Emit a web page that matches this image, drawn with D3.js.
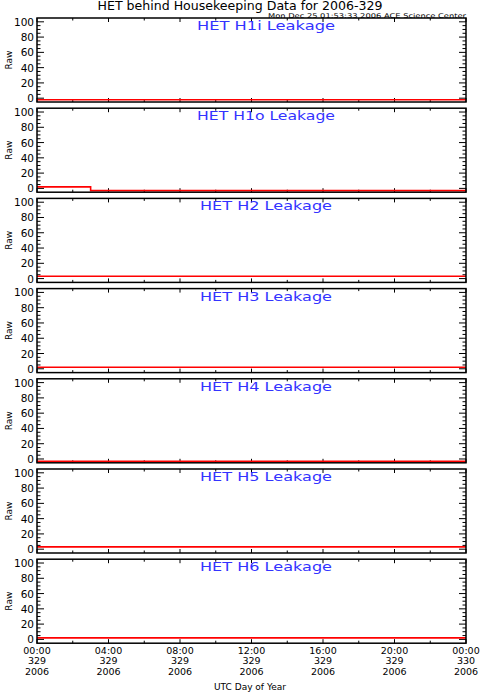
<!DOCTYPE html>
<html><head><meta charset="utf-8">
<script src="https://cdn.jsdelivr.net/npm/d3@7"></script>
<style>body{margin:0;background:#fff} svg{display:block}</style>
</head><body><svg id="c" width="480" height="692"></svg>
<script>
// ---- data ----
const chartTitle = "HET behind Housekeeping Data for 2006-329";
const stampText = "Mon Dec 25 01:53:33 2006 ACE Science Center";
const panelNames = ["HET H1i Leakage","HET H1o Leakage","HET H2 Leakage","HET H3 Leakage","HET H4 Leakage","HET H5 Leakage","HET H6 Leakage"];
// [hour of day, raw value]
const h1i = [[0,-2],[24,-2]];
const h1o = [[0,2],[3,-3],[24,-3]];
const h2  = [[0,3],[24,3]];
const h3  = [[0,2],[24,2]];
const h4  = [[0,-3],[24,-3]];
const h5  = [[0,3],[24,3]];
const h6  = [[0,2],[24,2]];
const yTicks = [0,20,40,60,80,100];
const xTickHours = [0,4,8,12,16,20,24];
const xTimeLabels = ["00:00","04:00","08:00","12:00","16:00","20:00","00:00"];
const xDayLabels = ["329","329","329","329","329","329","330"];
const xYearLabels = ["2006","2006","2006","2006","2006","2006","2006"];
const yLabel = "Raw";
const xTitle = "UTC Day of Year";

// ---- drawing ----
const series = [h1i,h1o,h2,h3,h4,h5,h6];
const svg = d3.select("#c");
const L = 37, R = 466, top0 = 18, pitch = 90.2, ph = 84;
const font = "'DejaVu Sans', sans-serif";
const x = d3.scaleLinear().domain([0,24]).range([L,R]);

svg.append("text").attr("x",240).attr("y",10).attr("text-anchor","middle")
  .attr("font-family",font).attr("font-size",12).attr("fill","#000")
  .attr("textLength",285).attr("lengthAdjust","spacingAndGlyphs").text(chartTitle);
svg.append("text").attr("x",466).attr("y",17.5).attr("text-anchor","end")
  .attr("font-family",font).attr("font-size",6.5).attr("fill","#000")
  .attr("textLength",198).attr("lengthAdjust","spacingAndGlyphs").text(stampText);

series.forEach((data,i)=>{
  const t = top0 + i*pitch, b = t + ph;
  const y = d3.scaleLinear().domain([-5,105]).range([b,t]);
  const g = svg.append("g");
  // ticks
  d3.range(0,101,5).forEach(v=>{
    const len = v%20===0?7:3.5;
    g.append("line").attr("x1",L).attr("x2",L+len).attr("y1",y(v)).attr("y2",y(v)).attr("stroke","#000").attr("stroke-width",1);
    g.append("line").attr("x1",R).attr("x2",R-len).attr("y1",y(v)).attr("y2",y(v)).attr("stroke","#000").attr("stroke-width",1);
  });
  d3.range(0,25,2).forEach(h=>{
    const len = h%4===0?4:2.5;
    g.append("line").attr("x1",x(h)).attr("x2",x(h)).attr("y1",b).attr("y2",b-len).attr("stroke","#000");
    g.append("line").attr("x1",x(h)).attr("x2",x(h)).attr("y1",t).attr("y2",t+len).attr("stroke","#000");
  });
  // y labels
  yTicks.forEach(v=>{
    g.append("text").attr("x",34).attr("y",y(v)+4).attr("text-anchor","end")
      .attr("font-family",font).attr("font-size",10.5).attr("fill","#000").text(v);
  });
  // data line
  const line = d3.line().x(d=>x(d[0])).y(d=>y(d[1])).curve(d3.curveStepAfter);
  g.append("path").datum(data).attr("d",line).attr("fill","none").attr("stroke","#ff0000").attr("stroke-width",1.6);
  // frame
  g.append("rect").attr("x",L).attr("y",t).attr("width",R-L).attr("height",ph)
    .attr("fill","none").attr("stroke","#000").attr("stroke-width",1.5);
  // panel title
  g.append("text").attr("x",266).attr("y",t+12).attr("text-anchor","middle")
    .attr("font-family",font).attr("font-size",12.5).attr("fill","#3333ff")
    .attr("textLength",i<2?138:132).attr("lengthAdjust","spacingAndGlyphs").text(panelNames[i]);
  // y axis label
  g.append("text").attr("transform",`translate(12,${(t+b)/2}) rotate(-90)`).attr("text-anchor","middle")
    .attr("font-family",font).attr("font-size",9).attr("fill","#000").text(yLabel);
});

// x tick labels
const xb = top0 + 6*pitch + ph;
xTickHours.forEach((h,i)=>{
  [xTimeLabels[i],xDayLabels[i],xYearLabels[i]].forEach((s,k)=>{
    svg.append("text").attr("x",x(h)).attr("y",xb+10.5+k*10.5).attr("text-anchor","middle")
      .attr("font-family",font).attr("font-size",9.5).attr("fill","#000").text(s);
  });
});
svg.append("text").attr("x",250).attr("y",690).attr("text-anchor","middle")
  .attr("font-family",font).attr("font-size",9).attr("fill","#000").text(xTitle);
</script>
</body></html>
